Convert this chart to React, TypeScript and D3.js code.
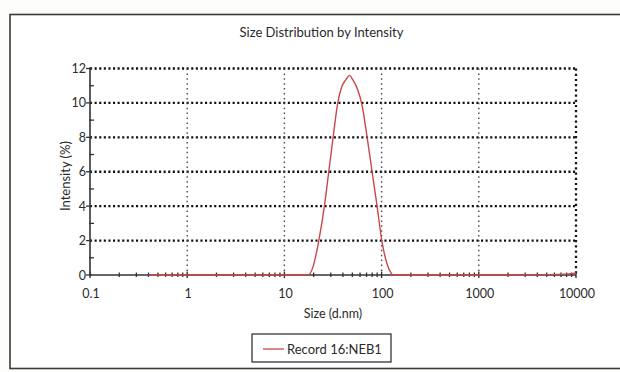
import * as d3 from "d3";

// size distribution (nm, %)
const sizes = [
  0.4, 1, 5, 10, 15, 17.4, 19.5, 21.0, 22.6, 25.8, 28.6, 31.7, 35.4, 39.0, 43.0,
  46.7, 50.5, 56.9, 63.0, 71.0, 79.8, 89.9, 100.5, 113, 124, 131, 500, 2000,
  8000, 10000,
];
const intensity = [
  0, 0, 0, 0, 0, 0, 0.4, 1.1, 2, 4, 6, 8, 10, 10.95, 11.35, 11.6, 11.35, 10.75,
  9.85, 8, 6, 4, 2, 0.7, 0.15, 0, 0, 0, 0.05, 0.1,
];

const xTicks = [0.1, 1, 10, 100, 1000, 10000];
const xTickLabels = ["0.1", "1", "10", "100", "1000", "10000"];
const yTicks = [0, 2, 4, 6, 8, 10, 12];
const yMinor = [1, 3, 5, 7, 9, 11];
const seriesName = "Record 16:NEB1";

const W = 620;
const H = 372;
const font = "Lato, 'Open Sans', sans-serif";
const red = "#c9484b";
const ink = "#2b2b2b";

const App = () => {
  const x = d3.scaleLog().domain([0.1, 10000]).range([90, 576]);
  const y = d3.scaleLinear().domain([0, 12]).range([275, 68.5]);

  const minorX: number[] = [];
  xTicks.slice(0, -1).forEach((d) => {
    for (let k = 2; k < 10; k++) minorX.push(d * k);
  });

  const pts = sizes.map((s, i) => [s, intensity[i]] as [number, number]);
  const line = d3
    .line<[number, number]>()
    .x((d) => x(d[0]))
    .y((d) => y(d[1]))
    .curve(d3.curveMonotoneX);

  const [x0, x1] = x.range();
  const [y0, y1] = y.range();

  return (
    <div style={{ position: "fixed", left: 0, top: 0 }}>
      <svg width={W} height={H} style={{ display: "block", background: "#fdfdfb" }}>
        {/* outer frame */}
        <rect x={10} y={14.5} width={640} height={354} fill="#ffffff" stroke="#3a3a3a" strokeWidth={1.6} />

        <text x={321.5} y={37} textAnchor="middle" fontFamily={font} fontSize={13} fill={ink}>
          Size Distribution by Intensity
        </text>

        {/* horizontal grid */}
        {yTicks.slice(1).map((t) => (
          <line
            key={"h" + t}
            x1={x0}
            x2={x1}
            y1={y(t)}
            y2={y(t)}
            stroke="#111"
            strokeWidth={2.3}
            strokeDasharray="2.1 2.5"
          />
        ))}

        {/* vertical grid */}
        {xTicks.slice(1).map((t, i) => {
          const last = i === xTicks.length - 2;
          return (
            <line
              key={"v" + t}
              x1={x(t)}
              x2={x(t)}
              y1={y1}
              y2={y0}
              stroke={last ? "#161616" : "#4a4a4a"}
              strokeWidth={last ? 2.3 : 1.4}
              strokeDasharray={last ? "2.2 3" : "1.5 3.4"}
            />
          );
        })}

        {/* axes */}
        <line x1={x0} x2={x0} y1={y1 - 1} y2={y0} stroke="#333" strokeWidth={1.6} />
        <line x1={x0} x2={x1} y1={y0} y2={y0} stroke="#333" strokeWidth={1.6} />

        {yTicks.map((t) => (
          <g key={"yt" + t}>
            <line x1={x0 - 4} x2={x0 + 2} y1={y(t)} y2={y(t)} stroke="#333" strokeWidth={1.3} />
            <text x={86} y={y(t) + 4.5} textAnchor="end" fontFamily={font} fontSize={12.5} fill={ink}>
              {t}
            </text>
          </g>
        ))}
        {yMinor.map((t) => (
          <line key={"ym" + t} x1={x0 - 1} x2={x0 + 4} y1={y(t)} y2={y(t)} stroke="#333" strokeWidth={1.3} />
        ))}

        {minorX.map((t) => (
          <line key={"xm" + t} x1={x(t)} x2={x(t)} y1={y0 - 2.5} y2={y0 + 2} stroke="#333" strokeWidth={1.3} />
        ))}
        {xTicks.map((t, i) => (
          <g key={"xt" + t}>
            <line x1={x(t)} x2={x(t)} y1={y0 - 3.5} y2={y0 + 3} stroke="#333" strokeWidth={1.4} />
            <text x={x(t) + 1} y={298} textAnchor="middle" fontFamily={font} fontSize={12.5} fill={ink}>
              {xTickLabels[i]}
            </text>
          </g>
        ))}

        <path d={line(pts) ?? ""} fill="none" stroke={red} strokeWidth={1.4} />

        <text x={333} y={318} textAnchor="middle" fontFamily={font} fontSize={12.5} fill={ink}>
          Size (d.nm)
        </text>
        <text
          transform={`translate(69.5,176) rotate(-90)`}
          textAnchor="middle"
          fontFamily={font}
          fontSize={13}
          fill={ink}
        >
          Intensity (%)
        </text>

        {/* legend */}
        <rect x={252} y={334} width={139} height={28} fill="#fff" stroke="#444" strokeWidth={1.4} />
        <line x1={263} x2={284} y1={349} y2={349} stroke={red} strokeWidth={1.3} />
        <text x={287} y={353.5} fontFamily={font} fontSize={13} fill={ink}>
          {seriesName}
        </text>
      </svg>
    </div>
  );
};

export default App;
